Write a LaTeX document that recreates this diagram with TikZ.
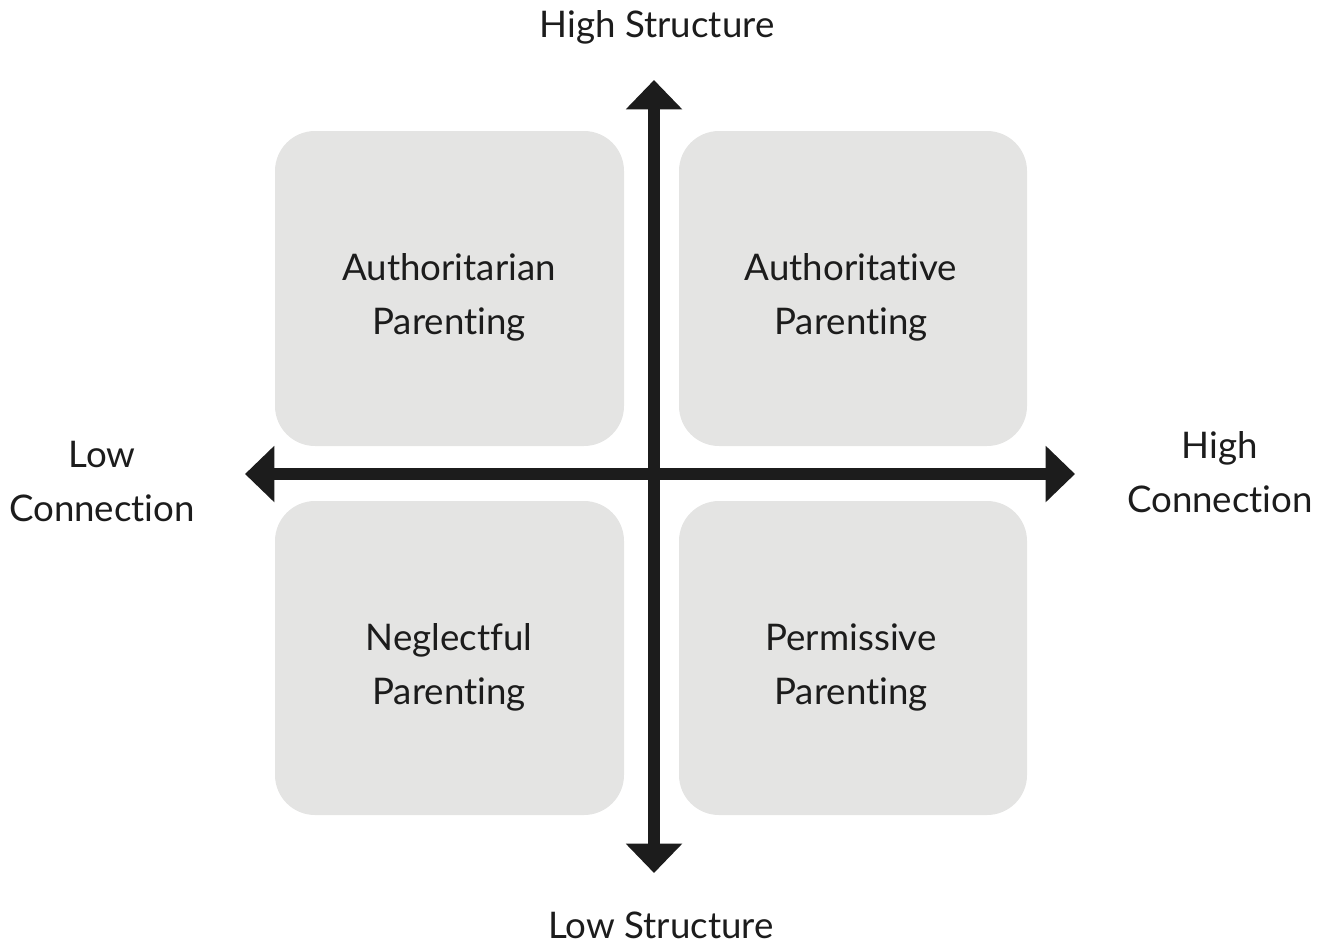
\documentclass[tikz,border=0pt]{standalone}
\usepackage{fontspec}
\setmainfont[Ligatures={NoCommon}]{Lato}
\usetikzlibrary{arrows.meta}
\definecolor{boxgray}{HTML}{E4E4E3}
\definecolor{ink}{HTML}{1C1C1C}
\tikzset{
  quad/.style={fill=boxgray, draw=none, rounded corners=30pt},
  lbl/.style={text=ink, align=center, font=\fontsize{27.5pt}{40.5pt}\selectfont, inner sep=0pt},
  axis/.style={draw=ink, line width=8.5pt, -{Triangle[length=22pt,width=41pt]}},
}
\begin{document}
\begin{tikzpicture}[x=0.75pt,y=-0.75pt]
\useasboundingbox (0,0) rectangle (1319,946);
\fill[quad] (275,131) rectangle (624,446);
\fill[quad] (679,131) rectangle (1027,446);
\fill[quad] (275,501) rectangle (624,815);
\fill[quad] (679,501) rectangle (1027,815);
\node[lbl] (tl) at (449,297) {Authoritarian\\Parenting};
\node[lbl] (tr) at (851,297) {Authoritative\\Parenting};
\node[lbl] (bl) at (449,667) {Neglectful\\Parenting};
\node[lbl] (br) at (851,667) {Permissive\\Parenting};
\coordinate (c) at (654,474);
\coordinate (top) at (654,80);
\coordinate (bot) at (654,873);
\coordinate (left) at (245,474);
\coordinate (right) at (1075,474);
\draw[axis] (c) -- (top);
\draw[axis] (c) -- (bot);
\draw[axis] (c) -- (left);
\draw[axis] (c) -- (right);
\node[lbl] (hs) at (657,27) {High Structure};
\node[lbl] (ls) at (661,925) {Low Structure};
\node[lbl] (lc) at (102,482) {Low\\Connection};
\node[lbl] (hc) at (1220,472) {High\\Connection};
\end{tikzpicture}
\end{document}
